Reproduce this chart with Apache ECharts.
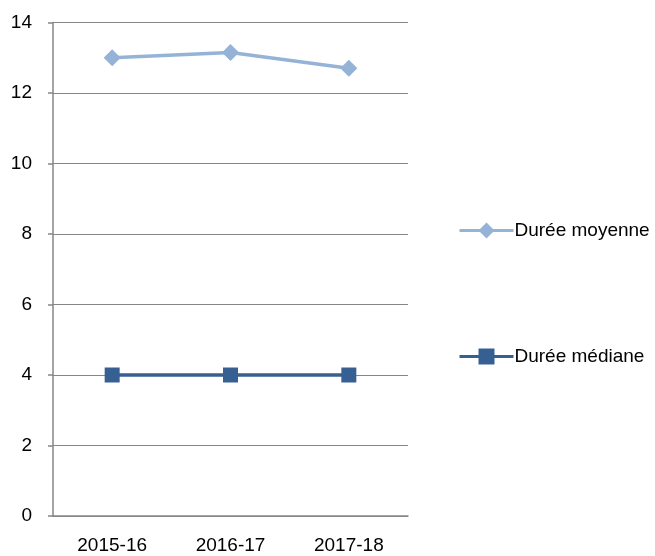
<!DOCTYPE html>
<html><head><meta charset="utf-8">
<script src="https://cdn.jsdelivr.net/npm/echarts@6/dist/echarts.min.js"></script>
<style>html,body{margin:0;padding:0;background:#fff}#c{width:655px;height:556px}</style>
</head><body><div id="c"></div>
<script>
const categories = ['2015-16', '2016-17', '2017-18'];
const moyenne = [13.0, 13.15, 12.7];
const mediane = [4, 4, 4];
const yTicks = {min: 0, max: 14, interval: 2};

const chart = echarts.init(document.getElementById('c'));
const font = '"Liberation Sans", Arial, sans-serif';
const legendBase = {
  orient: 'vertical', left: 453,
  itemWidth: 54, itemHeight: 20, itemGap: 0,
  lineStyle: {width: 3},
  textStyle: {fontFamily: font, fontSize: 19, color: '#000', padding: [0,0,0,-4]}
};
chart.setOption({
  animation: false,
  grid: {left: 53, top: 22.5, right: 247, bottom: 40},
  legend: [
    Object.assign({}, legendBase, {top: 216, data: ['Durée moyenne']}),
    Object.assign({}, legendBase, {top: 342, data: ['Durée médiane']})
  ],
  xAxis: {
    type: 'category', data: categories, boundaryGap: true,
    axisLine: {lineStyle: {color: '#868686', width: 1.5}},
    axisTick: {show: false},
    axisLabel: {fontFamily: font, fontSize: 19, color: '#000', margin: 20}
  },
  yAxis: {
    type: 'value', min: yTicks.min, max: yTicks.max, interval: yTicks.interval,
    axisLine: {show: true, lineStyle: {color: '#868686', width: 1.5}},
    axisTick: {show: true, length: 5, lineStyle: {color: '#868686', width: 1.5}},
    splitLine: {lineStyle: {color: '#868686', width: 1.2}},
    axisLabel: {fontFamily: font, fontSize: 19, color: '#000', margin: 21}
  },
  series: [
    {name: 'Durée moyenne', type: 'line', data: moyenne, symbol: 'diamond', symbolSize: 17,
     lineStyle: {color: '#95B3D7', width: 3.5}, itemStyle: {color: '#95B3D7'}},
    {name: 'Durée médiane', type: 'line', data: mediane, symbol: 'rect', symbolSize: 15,
     lineStyle: {color: '#376092', width: 3.5}, itemStyle: {color: '#376092'}}
  ]
});
</script></body></html>
